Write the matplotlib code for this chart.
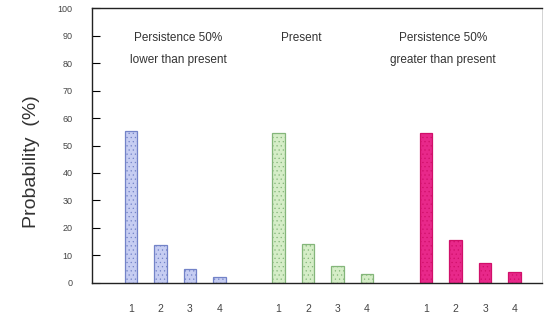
import matplotlib
matplotlib.use("Agg")
import matplotlib.pyplot as plt
import numpy as np

# scenario groups and model-count categories
groups = ["Persistence 50%\nlower than present", "Present", "Persistence 50%\ngreater than present"]
categories = ["1", "2", "3", "4"]
lower = [55.3, 13.8, 5.1, 2.1]
present = [54.4, 14.1, 6.2, 3.3]
greater = [54.4, 15.6, 7.2, 4.1]

fills = ["#c6cdf2", "#d5edc7", "#e8288a"]
edges = ["#7383c8", "#84b67a", "#d0106a"]
label_x = [2.6, 6.76, 11.58]

plt.rcParams["hatch.linewidth"] = 0.4
plt.rcParams["font.family"] = ["Liberation Sans", "DejaVu Sans"]

fig = plt.figure(figsize=(5.47, 3.23), dpi=100)
ax = fig.add_axes([0.168, 0.124, 0.823, 0.851])

pos = np.arange(1, 5)
for i, vals in enumerate([lower, present, greater]):
    x = pos + 5 * i
    ax.bar(x, vals, width=0.42, color=fills[i], edgecolor=edges[i],
           linewidth=0.9, hatch="....", zorder=2)
    ax.text(label_x[i], 91.3, groups[i], ha="center", va="top",
            fontsize=8.5, color="#333333", linespacing=2.15)

ax.set_xlim(-0.32, 14.93)
ax.set_ylim(0, 100)
ax.set_yticks(range(0, 101, 10))
ax.tick_params(axis="y", direction="in", length=6, width=0.8, labelsize=6.5,
               labelcolor="#444444", pad=14)
xt = np.concatenate([pos + 5 * i for i in range(3)])
ax.set_xticks(xt)
ax.set_xticklabels(categories * 3)
ax.tick_params(axis="x", length=0, labelsize=7.5, labelcolor="#444444", pad=15)

for s in ["left", "bottom", "top"]:
    ax.spines[s].set_linewidth(1.0)
    ax.spines[s].set_color("#222222")
ax.spines["right"].set_color("#cccccc")
ax.spines["right"].set_linewidth(0.6)

ax.set_ylabel("Probability  (%)", fontsize=14, color="#333333")
ax.yaxis.set_label_coords(-0.115, 0.44)

fig.savefig("out.png", dpi=100)
